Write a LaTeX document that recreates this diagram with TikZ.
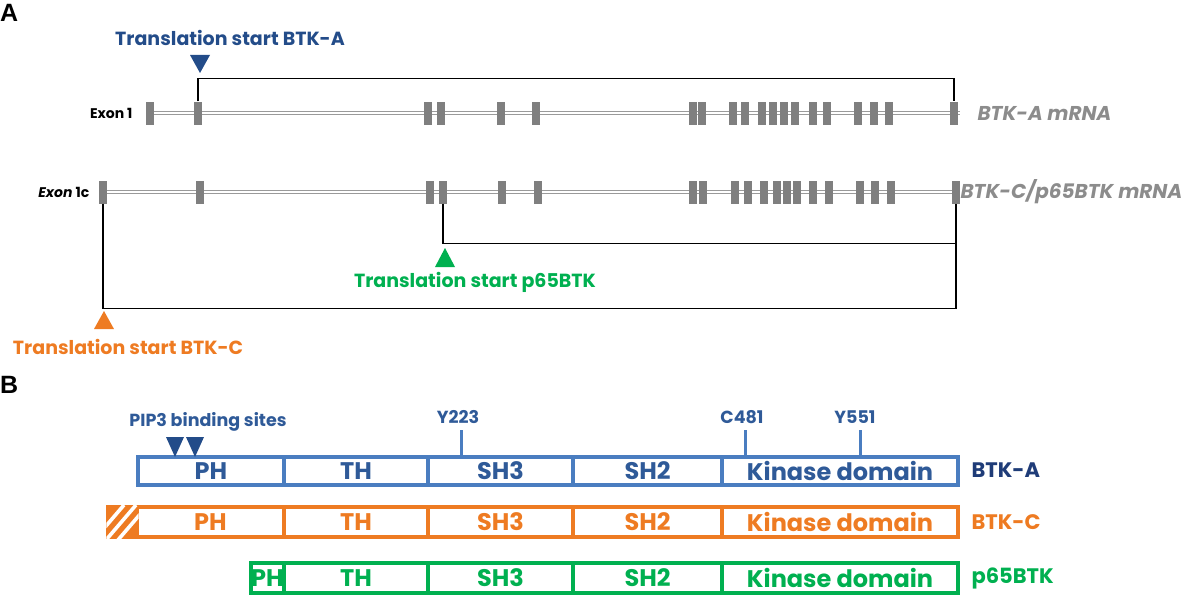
\documentclass[tikz,border=0pt]{standalone}
\usepackage{fontspec}
\setmainfont{Poppins}
\newfontfamily\panelfont{Liberation Sans}
\usetikzlibrary{positioning}
\definecolor{startblue}{HTML}{234C89}
\definecolor{boxblue}{HTML}{4A7DC0}
\definecolor{domblue}{HTML}{2F5A98}
\definecolor{nameblue}{HTML}{1F3C78}
\definecolor{btkorange}{HTML}{EE7B22}
\definecolor{btkgreen}{HTML}{00B050}
\definecolor{exongray}{HTML}{7F7F7F}
\definecolor{linegray}{HTML}{9A9A9A}
\definecolor{labelgray}{HTML}{8C8C8C}

\begin{document}
\begin{tikzpicture}[x=1pt,y=-1pt,
  exon/.style={fill=exongray,minimum width=8pt,minimum height=23pt,inner sep=0pt},
  mrna/.style={draw=linegray,line width=1.3pt,double=white,double distance=1.6pt},
  orf/.style={line width=1.4pt},
  dom/.style={draw,line width=3.2pt,inner sep=0pt,font=\fontsize{24}{26}\selectfont\bfseries},
  starttext/.style={font=\fontsize{19}{22}\selectfont\bfseries},
  sitetext/.style={font=\fontsize{17.5}{20}\selectfont\bfseries,text=domblue}]
\useasboundingbox (0,0) rectangle (1194,602);

% panel letters
\node[anchor=north west,inner sep=0pt] (pA) at (0,4) {\panelfont\fontsize{25}{28}\selectfont\bfseries A};
\node[anchor=north west,inner sep=0pt] (pB) at (0,376) {\panelfont\fontsize{25}{28}\selectfont\bfseries B};

% mRNA lines
\coordinate (lA0) at (150,113);
\coordinate (lA1) at (960,113);
\coordinate (lB0) at (103,192);
\coordinate (lB1) at (960,192);
\draw[mrna] (lA0) -- (lA1);
\draw[mrna] (lB0) -- (lB1);

% exons
\foreach \x [count=\i] in {150,198,428,441,501,536,693,702,733,745,762,773,784,795,813,827,858,874,889,954}
  \node[exon] (a\i) at (\x,113) {};
\foreach \x [count=\i] in {103,200,430,443,502,538,693,703,735,748,764,777,787,797,813,829,860,875,891,956}
  \node[exon] (b\i) at (\x,192) {};

\node[anchor=east,font=\fontsize{14}{16}\selectfont\bfseries] (ex1) at (136,113) {Exon 1};
\node[anchor=east,font=\fontsize{14}{16}\selectfont\bfseries] (ex1c) at (93,192) {\itshape Exon \upshape 1c};
\node[anchor=west,text=labelgray,font=\fontsize{20}{22}\selectfont\bfseries\itshape] (mA) at (974,113) {BTK-A mRNA};
\node[anchor=west,text=labelgray,font=\fontsize{20}{22}\selectfont\bfseries\itshape] (mB) at (957,192) {BTK-C/p65BTK mRNA};

% reading frames
\draw[orf] (a2.north) -- ++(0,-23) -| (a20.north);
\draw[orf] (b1.south) -- ++(0,105) -| (b20.south);
\draw[orf] (b4.south) -- ++(0,40) -| (b20.south);

% translation starts
\node[starttext,text=startblue] (trA) at (230,38) {Translation start BTK-A};
\fill[startblue] (190,55) -- (210,55) -- (200,73) -- cycle;
\node[starttext,text=btkgreen] (trP) at (475,282) {Translation start p65BTK};
\fill[btkgreen] (445,248) -- (435,267) -- (455,267) -- cycle;
\node[starttext,text=btkorange] (trC) at (128,347) {Translation start BTK-C};
\fill[btkorange] (104,311) -- (94,329) -- (114,329) -- cycle;

% protein: BTK-A
\foreach \l/\r/\t [count=\i] in {138/284/PH,284/428/TH,428/573/SH3,573/722/SH2,722/958/Kinase domain}
  \node[dom,draw=boxblue,text=domblue,minimum width={\r-\l},minimum height=28] (A\i) at ({(\l+\r)/2},471) {\t};
% protein: BTK-C
\foreach \l/\r/\t [count=\i] in {137/284/PH,284/428/TH,428/573/SH3,573/722/SH2,722/958/Kinase domain}
  \node[dom,draw=btkorange,text=btkorange,minimum width={\r-\l},minimum height=30] (C\i) at ({(\l+\r)/2},522) {\t};
\node[dom,draw=btkorange,fill=btkorange,minimum width=29,minimum height=30] (C0) at (122.5,522) {};
\begin{scope}
  \clip (C0.south west) rectangle (C0.north east);
  \foreach \d in {-14,-2,10}
    \draw[white,line width=3.6pt] (108+\d,540) -- (138+\d,505);
\end{scope}
% protein: p65BTK
\foreach \l/\r/\t [count=\i] in {251/284/PH,284/428/TH,428/573/SH3,573/722/SH2,722/958/Kinase domain}
  \node[dom,draw=btkgreen,text=btkgreen,minimum width={\r-\l},minimum height=30] (P\i) at ({(\l+\r)/2},578) {\t};

\node[anchor=west,text=nameblue,font=\fontsize{21}{24}\selectfont\bfseries] (nA) at (968,470) {BTK-A};
\node[anchor=west,text=btkorange,font=\fontsize{21}{24}\selectfont\bfseries] (nC) at (968,522) {BTK-C};
\node[anchor=west,text=btkgreen,font=\fontsize{21}{24}\selectfont\bfseries] (nP) at (968,578) {p65BTK};

% sites
\node[sitetext] (pip) at (208,422) {PIP3 binding sites};
\fill[startblue] (166,437) -- (184,437) -- (175,457) -- cycle;
\fill[startblue] (186,437) -- (204,437) -- (195,457) -- cycle;
\node[sitetext] (y223) at (458,417) {Y223};
\node[sitetext] (c481) at (742,417) {C481};
\node[sitetext] (y551) at (855,417) {Y551};
\coordinate (t223) at (461,430);
\coordinate (t481) at (745,430);
\coordinate (t551) at (860,430);
\draw[boxblue,line width=3pt] (t223) -- (t223 |- A3.north);
\draw[boxblue,line width=3pt] (t481) -- (t481 |- A5.north);
\draw[boxblue,line width=3pt] (t551) -- (t551 |- A5.north);
\end{tikzpicture}
\end{document}
